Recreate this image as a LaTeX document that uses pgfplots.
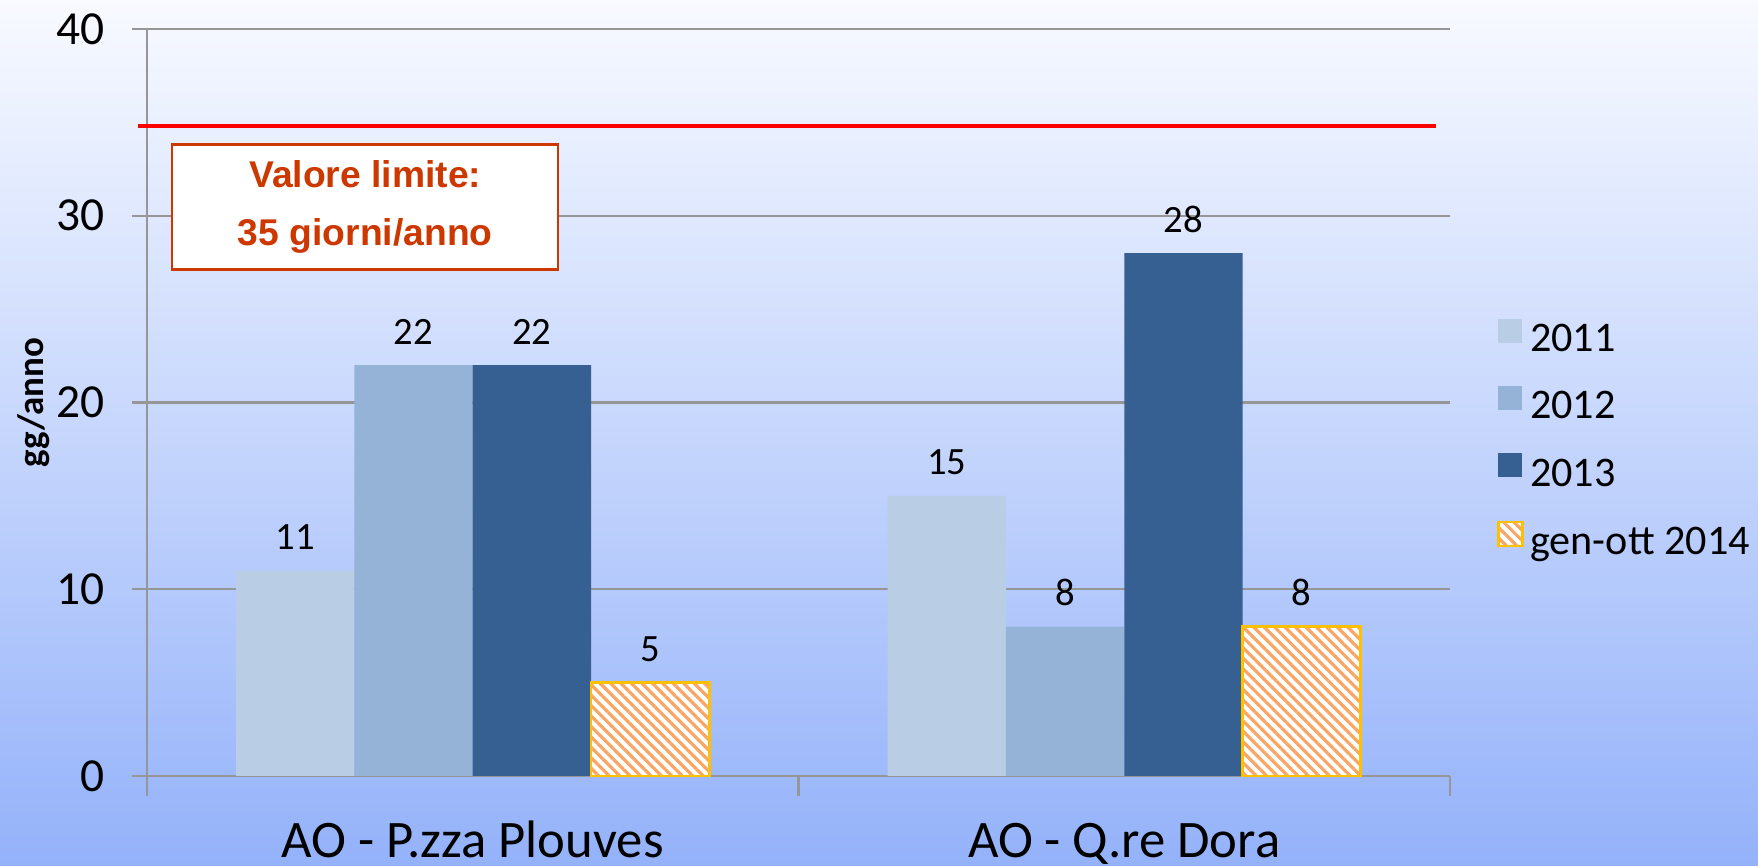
\documentclass[border=0pt]{standalone}
\usepackage{fontspec}
\setmainfont{Carlito}
\newfontfamily\arialfont{Liberation Sans}
\usepackage{pgfplots}
\pgfplotsset{compat=1.18}
\usetikzlibrary{patterns.meta}

\definecolor{c2011}{RGB}{185,205,229}
\definecolor{c2012}{RGB}{149,179,215}
\definecolor{c2013}{RGB}{54,96,146}
\definecolor{hatch}{RGB}{250,165,100}
\definecolor{hatchborder}{RGB}{255,192,0}
\definecolor{gridc}{RGB}{150,150,150}
\definecolor{limitc}{RGB}{204,56,0}
\definecolor{bgtop}{RGB}{248,250,255}
\definecolor{bgmid}{RGB}{218,226,253}
\definecolor{bgbot}{RGB}{148,178,250}

\begin{document}
\begin{tikzpicture}
% page = 17.58cm x 8.66cm, axis box starts at (0,0)
\path[use as bounding box] (-1.47cm,-0.90cm) rectangle (16.11cm,7.76cm);
\shade[top color=bgtop, middle color=bgmid, bottom color=bgbot]
  (-1.47cm,-0.90cm) rectangle (16.11cm,7.76cm);
\begin{axis}[
    scale only axis,
    width=13.03cm, height=7.47cm,
    xmin=-0.5, xmax=1.5, ymin=0, ymax=40,
    axis x line*=bottom, axis y line*=left,
    axis line style={gridc, line width=0.6pt},
    ybar=0pt, bar width=0.1816,
    xtick={0,1},
    xticklabels={AO - P.zza Plouves, AO - Q.re Dora},
    major x tick style={draw=none},
    minor xtick={-0.5,0.5,1.5},
    minor tick length=0.2cm,
    major tick length=0.15cm,
    tick align=outside,
    tick style={gridc, line width=0.6pt},
    ytick={0,10,20,30,40},
    ymajorgrids,
    major grid style={gridc, line width=0.6pt},
    /pgf/number format/assume math mode=true,
    yticklabel style={font=\fontsize{13.5}{16}\selectfont, anchor=east, inner sep=0pt, xshift=-0.27cm},
    xticklabel style={font=\fontsize{15}{18}\selectfont, anchor=base, inner sep=0pt, text depth=0pt, yshift=-0.66cm},
    ylabel={\bfseries gg/anno},
    ylabel style={font=\fontsize{10.5}{12}\selectfont, at={(axis description cs:-0.0868,0.5)}, anchor=center},
    nodes near coords,
    every node near coord/.append style={font=\fontsize{11}{13}\selectfont, anchor=base, inner sep=0pt, yshift=0.21cm, black},
    legend image code/.code={\path[#1] (0cm,0cm) rectangle (0.24cm,0.24cm);},
    legend style={at={(1.036,0.447)}, anchor=west, draw=none, fill=none,
      inner sep=0pt, outer sep=0pt, row sep=6.8pt, column sep=0.065cm,
      font=\fontsize{12}{14}\selectfont,
      nodes={inner sep=0pt, text height=8pt, text depth=3pt}},
    legend cell align=left,
    clip=false,
]
\addplot[fill=c2011, draw=none] coordinates {(0,11) (1,15)};
\addlegendentry{2011}
\addplot[fill=c2012, draw=none] coordinates {(0,22) (1,8)};
\addlegendentry{2012}
\addplot[fill=c2013, draw=none] coordinates {(0,22) (1,28)};
\addlegendentry{2013}
\addplot[fill=white, draw=hatchborder, line width=0.8pt,
  postaction={pattern={Lines[angle=-45,distance=2.1pt,line width=0.9pt]}, pattern color=hatch}]
  coordinates {(0,5) (1,8)};
\addlegendentry{gen-ott 2014}

\draw[red, line width=1.1pt] (axis cs:-0.514,34.8) -- (axis cs:1.4785,34.8);
\node[draw=limitc, line width=0.7pt, minimum width=3.86cm, minimum height=1.25cm,
  shading angle=30, top color=white, middle color=red!10!white, bottom color=white,
  align=center, text=limitc, font=\arialfont\bfseries\fontsize{10.6}{16.6}\selectfont]
  at (axis cs:-0.165,30.48) {Valore limite:\\35 giorni/anno};
\end{axis}
\end{tikzpicture}
\end{document}
